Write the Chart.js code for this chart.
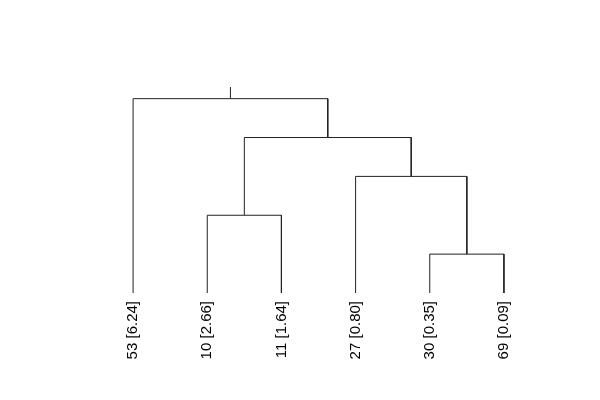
<!DOCTYPE html>
<html>
<head>
<meta charset="utf-8">
<script src="https://cdn.jsdelivr.net/npm/chart.js@4"></script>
<style>
  html, body { margin: 0; padding: 0; background: #fff; }
  #wrap { width: 600px; height: 400px; }
</style>
</head>
<body>
<div id="wrap"><canvas id="dendro" width="600" height="400"></canvas></div>
<script>
// Leaf labels, left to right
const leafLabels = ['53 [6.24]', '10 [2.66]', '11 [1.64]', '27 [0.80]', '30 [0.35]', '69 [0.09]'];

// R-style merge table: negative = leaf index (1-based), positive = earlier merge step
const mergeLeft = [-5, -2, -4, 2, -1];
const mergeRight = [-6, -3, 1, 3, 4];
const mergeHeight = [1, 2, 3, 4, 5];

// length of the small edge above the root
const rootEdge = 0.3;

// work out x/y for each node and build the elbow segments
function nodePos(id, nodes) {
    if (id < 0) return { x: -id, y: 0 };
    return nodes[id - 1];
}

const nodes = [];
const segments = [];
for (let i = 0; i < mergeHeight.length; i++) {
    const a = nodePos(mergeLeft[i], nodes);
    const b = nodePos(mergeRight[i], nodes);
    const h = mergeHeight[i];
    nodes.push({ x: (a.x + b.x) / 2, y: h });
    segments.push([
        { x: a.x, y: a.y },
        { x: a.x, y: h },
        { x: b.x, y: h },
        { x: b.x, y: b.y }
    ]);
}
const root = nodes[nodes.length - 1];
segments.push([
    { x: root.x, y: root.y },
    { x: root.x, y: root.y + rootEdge }
]);

// Leaf labels drawn vertically under each leaf
const leafLabelPlugin = {
    id: 'leafLabels',
    afterDraw(chart) {
        const ctx = chart.ctx;
        const xs = chart.scales.x;
        const ys = chart.scales.y;
        ctx.save();
        ctx.fillStyle = '#000';
        ctx.font = '15px "Liberation Sans", Arial, sans-serif';
        ctx.textAlign = 'right';
        ctx.textBaseline = 'middle';
        leafLabels.forEach((lab, i) => {
            const px = xs.getPixelForValue(i + 1);
            const py = ys.getPixelForValue(0) + 8;
            ctx.save();
            ctx.translate(px, py);
            ctx.rotate(-Math.PI / 2);
            ctx.fillText(lab, 0, 0);
            ctx.restore();
        });
        ctx.restore();
    }
};

new Chart(document.getElementById('dendro'), {
    type: 'line',
    data: {
        datasets: segments.map(seg => ({
            data: seg,
            borderColor: '#222',
            borderWidth: 1,
            pointRadius: 0,
            tension: 0,
            fill: false
        }))
    },
    options: {
        responsive: false,
        animation: false,
        layout: {
            padding: { left: 96, right: 59, top: 87, bottom: 107 }
        },
        scales: {
            x: { type: 'linear', min: 0.5, max: 6.5, display: false },
            y: { type: 'linear', min: 0, max: mergeHeight[mergeHeight.length - 1] + rootEdge, display: false }
        },
        plugins: {
            legend: { display: false },
            tooltip: { enabled: false }
        }
    },
    plugins: [leafLabelPlugin]
});
</script>
</body>
</html>
